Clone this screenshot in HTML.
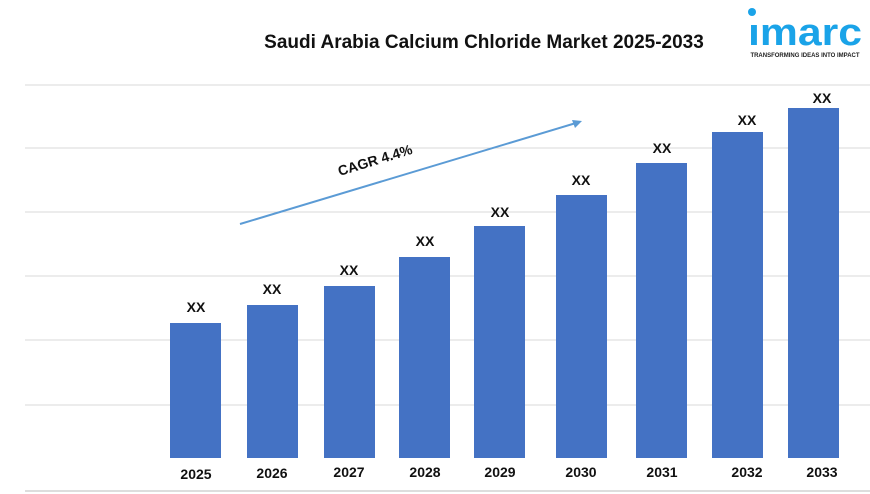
<html><body style="margin:0;width:870px;height:494px;background:#fff;overflow:hidden;position:relative;font-family:'Liberation Sans',sans-serif">
<svg width="870" height="494" style="position:absolute;left:0;top:0">
<g stroke="#d9d9d9" stroke-width="1">
<line x1="25" x2="870" y1="85" y2="85"/><line x1="25" x2="870" y1="148" y2="148"/><line x1="25" x2="870" y1="212" y2="212"/><line x1="25" x2="870" y1="276" y2="276"/><line x1="25" x2="870" y1="340" y2="340"/><line x1="25" x2="870" y1="405" y2="405"/><line x1="25" x2="870" y1="491" y2="491" stroke="#bbb"/>
</g>
<g fill="#4472c4">
<rect x="170" y="323" width="51" height="135"/><rect x="247" y="305" width="51" height="153"/><rect x="324" y="286" width="51" height="172"/><rect x="399" y="257" width="51" height="201"/><rect x="474" y="226" width="51" height="232"/><rect x="556" y="195" width="51" height="263"/><rect x="636" y="163" width="51" height="295"/><rect x="712" y="132" width="51" height="326"/><rect x="788" y="108" width="51" height="350"/>
</g>
<g font-weight="bold" font-size="14" text-anchor="middle" fill="#111">
<text x="196" y="312">XX</text><text x="272" y="294">XX</text><text x="349" y="275">XX</text><text x="425" y="246">XX</text><text x="500" y="217">XX</text><text x="581" y="185">XX</text><text x="662" y="153">XX</text><text x="747" y="125">XX</text><text x="822" y="103">XX</text>
<text x="196" y="479">2025</text><text x="272" y="478">2026</text><text x="349" y="477">2027</text><text x="425" y="477">2028</text><text x="500" y="477">2029</text><text x="581" y="477">2030</text><text x="662" y="477">2031</text><text x="747" y="477">2032</text><text x="822" y="477">2033</text>
</g>
<line x1="240" y1="224" x2="576" y2="123" stroke="#5b9bd5" stroke-width="2"/>
<polygon points="582,121 572,120 575,128" fill="#5b9bd5"/>
<text x="375" y="165" font-size="14" font-weight="bold" fill="#111" text-anchor="middle" transform="rotate(-17 375 160)">CAGR 4.4%</text>
<text x="484" y="48" font-size="19" font-weight="bold" fill="#111" text-anchor="middle">Saudi Arabia Calcium Chloride Market 2025-2033</text>
<circle cx="752" cy="12" r="4" fill="#1aa3e8"/>
<text x="748" y="45" font-size="38" font-weight="bold" fill="#1aa3e8" textLength="114" lengthAdjust="spacingAndGlyphs">ımarc</text>
<text x="805" y="57" font-size="6" font-weight="bold" fill="#222" text-anchor="middle">TRANSFORMING IDEAS INTO IMPACT</text>
</svg>
</body></html>
